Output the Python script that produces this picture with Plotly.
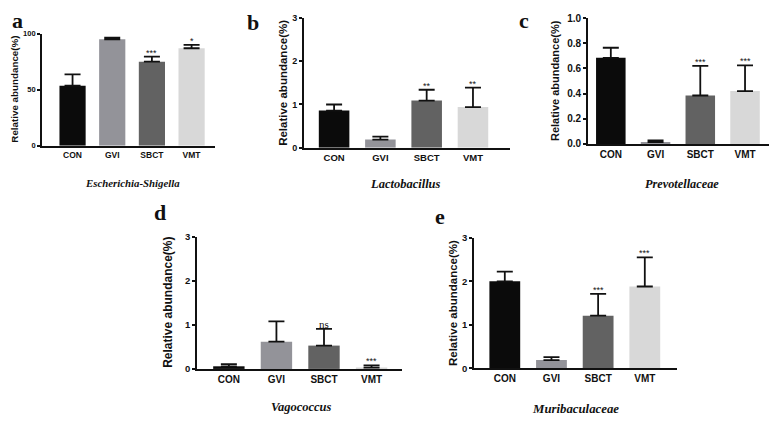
import plotly.graph_objects as go

W, H = 777, 423
OFF = 8  # page body margin in the screenshot

groups = ["CON", "GVI", "SBCT", "VMT"]
bar_colors = ["#0b0b0b", "#939399", "#626262", "#d8d8d8"]

# panel data
a_mean = [53.5, 95, 75, 87]
a_err = [10.2, 1.5, 4.5, 3]
a_sig = ["", "", "***", "*"]

b_mean = [0.86, 0.19, 1.09, 0.94]
b_err = [0.14, 0.07, 0.25, 0.45]
b_sig = ["", "", "**", "**"]

c_mean = [0.685, 0.015, 0.385, 0.42]
c_err = [0.08, 0.012, 0.235, 0.205]
c_sig = ["", "", "***", "***"]

d_mean = [0.06, 0.62, 0.53, 0.03]
d_err = [0.05, 0.46, 0.38, 0.05]
d_sig = ["", "", "ns", "***"]

e_mean = [2.0, 0.19, 1.21, 1.88]
e_err = [0.22, 0.07, 0.5, 0.67]
e_sig = ["", "", "***", "***"]

genus = ["Escherichia-Shigella", "Lactobacillus", "Prevotellaceae", "Vagococcus", "Muribaculaceae"]
letters = ["a", "b", "c", "d", "e"]


def fx(px):
    return (px - OFF) / W


def fy(py):
    return 1 - (py - OFF) / H


# where each panel sits on the page (pixels) and its font sizes
panels = [
    dict(m=a_mean, e=a_err, s=a_sig, px=(42, 215), py=(28.3, 143.5), xr=(-0.77, 3.59), yr=(0, 100), dt=50, fmt="d",
         let=(17, 15), gen=(132, 182), yt=15, fs=(8.5, 7.5, 9.8, 10.8)),
    dict(m=b_mean, e=b_err, s=b_sig, px=(304, 510), py=(12, 145.7), xr=(-0.65, 3.8), yr=(0, 3), dt=1, fmt="d",
         let=(253, 17), gen=(405, 183), yt=283, fs=(9.5, 9, 11.5, 12.5)),
    dict(m=c_mean, e=c_err, s=c_sig, px=(588, 775), py=(12.3, 141.7), xr=(-0.51, 3.67), yr=(0, 1), dt=0.2, fmt=".1f",
         let=(524, 15), gen=(682, 183), yt=555, fs=(10, 10, 11, 12.3)),
    dict(m=d_mean, e=d_err, s=d_sig, px=(197, 402), py=(237.3, 373.3), xr=(-0.67, 3.64), yr=(0, 3), dt=1, fmt="d",
         let=(160, 212), gen=(301, 412), yt=168, fs=(10, 9.5, 12, 12.5)),
    dict(m=e_mean, e=e_err, s=e_sig, px=(474, 677), py=(238.3, 372.7), xr=(-0.66, 3.69), yr=(0, 3), dt=1, fmt="d",
         let=(440, 216), gen=(575, 415), yt=453, fs=(10, 9.5, 11.5, 12.8)),
]

fig = go.Figure()
annots = []

for i, p in enumerate(panels):
    n = "" if i == 0 else str(i + 1)
    xfs, yfs, tfs, gfs = p["fs"]
    fig.add_trace(go.Bar(
        x=groups, y=p["m"], width=0.66,
        marker=dict(color=bar_colors, line=dict(width=0)),
        error_y=dict(type="data", symmetric=False, array=p["e"], arrayminus=[0] * 4,
                     color="#111111", thickness=1.8, width=8),
        xaxis="x" + n, yaxis="y" + n, showlegend=False,
    ))
    fig.update_layout(**{
        "xaxis" + n: dict(
            domain=[fx(p["px"][0]), fx(p["px"][1])], anchor="y" + n,
            type="category", range=list(p["xr"]), showline=True, linecolor="#111111", linewidth=1.8,
            ticks="", tickfont=dict(family="Liberation Sans", size=xfs, color="#111111", weight="bold"),
            showgrid=False, fixedrange=True,
        ),
        "yaxis" + n: dict(
            domain=[fy(p["py"][1]), fy(p["py"][0])], anchor="x" + n,
            range=list(p["yr"]), dtick=p["dt"], tickformat=p["fmt"], showline=True, linecolor="#111111",
            linewidth=1.8, ticks="outside", ticklen=3, tickwidth=1.5, tickcolor="#111111",
            tickfont=dict(family="Liberation Sans", size=yfs, color="#111111", weight="bold"),
            showgrid=False, zeroline=False, fixedrange=True,
        ),
    })
    # significance marks above the error bars
    for g, m, e, s in zip(groups, p["m"], p["e"], p["s"]):
        if s:
            annots.append(dict(
                x=g, y=m + e, xref="x" + n, yref="y" + n, text=s, showarrow=False,
                xanchor="center", yanchor="bottom", yshift=-3,
                font=dict(family="Liberation Serif" if s == "ns" else "Liberation Sans",
                          size=11 if s == "ns" else 9, color="#111111"),
            ))
    annots.append(dict(
        x=fx(p["yt"]), y=fy((p["py"][0] + p["py"][1]) / 2), xref="paper", yref="paper",
        xanchor="center", yanchor="middle",
        text="<b>Relative abundance(%)</b>", textangle=-90, showarrow=False,
        font=dict(family="Liberation Sans", size=tfs, color="#111111"),
    ))
    annots.append(dict(
        x=fx(p["let"][0]), y=fy(p["let"][1]), xref="paper", yref="paper",
        xanchor="center", yanchor="middle",
        text="<b>" + letters[i] + "</b>", showarrow=False,
        font=dict(family="Liberation Serif", size=22, color="#111111"),
    ))
    annots.append(dict(
        x=fx(p["gen"][0]), y=fy(p["gen"][1]), xref="paper", yref="paper",
        xanchor="center", yanchor="middle",
        text="<b><i>" + genus[i] + "</i></b>", showarrow=False,
        font=dict(family="Liberation Serif", size=gfs, color="#111111"),
    ))

fig.update_layout(
    width=W, height=H, margin=dict(l=0, r=0, t=0, b=0),
    paper_bgcolor="white", plot_bgcolor="white",
    annotations=annots, bargap=0.3,
)

fig.write_html("out.html")
